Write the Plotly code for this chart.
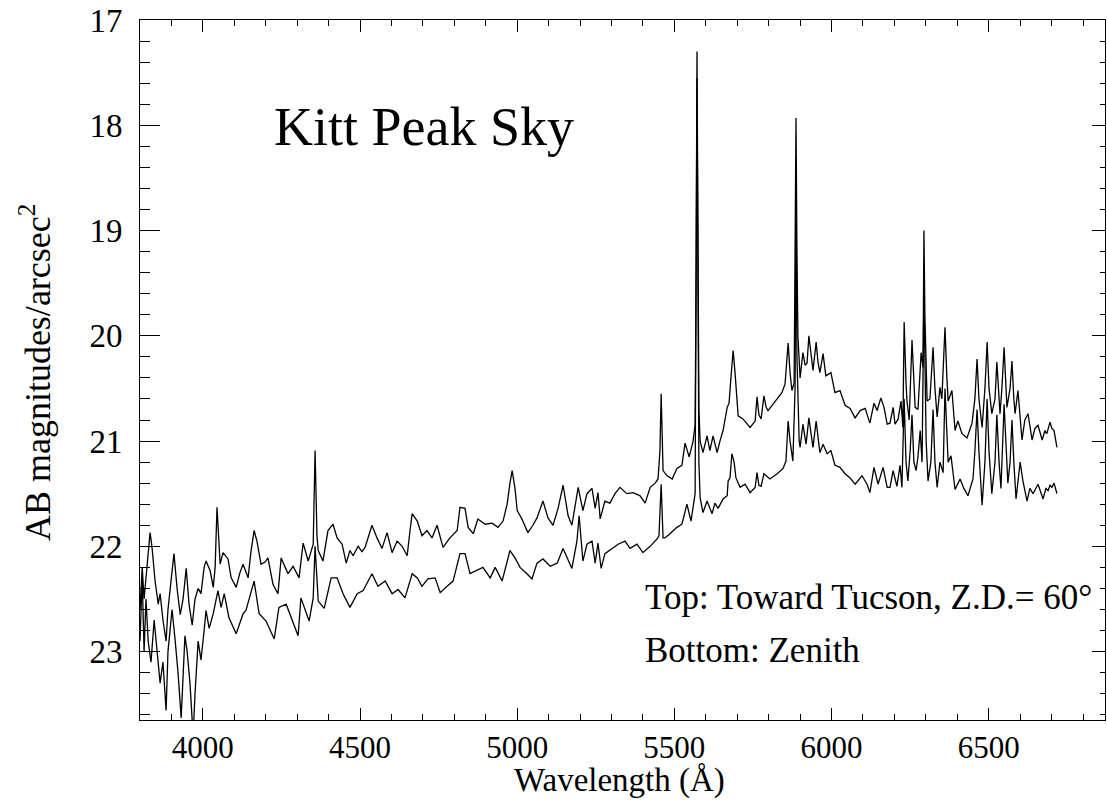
import plotly.graph_objects as go

# Wavelength (Angstrom) and AB mag/arcsec^2 for the "Top" spectrum (toward Tucson, Z.D.=60)
top_wl = [3800, 3807, 3813, 3819, 3826, 3832, 3838, 3848, 3858, 3864, 3873, 3883, 3889, 3899, 3908, 3918,
          3928, 3937, 3947, 3956, 3966, 3975, 3985, 3994, 4004, 4010, 4023, 4033, 4039, 4045, 4052, 4055,
          4064, 4080, 4090, 4106, 4118, 4128, 4144, 4153, 4163, 4172, 4185, 4198, 4207, 4223, 4239, 4249,
          4262, 4271, 4287, 4297, 4306, 4319, 4335, 4344, 4351, 4357, 4363, 4367, 4382, 4398, 4414, 4427,
          4443, 4456, 4468, 4478, 4494, 4506, 4516, 4538, 4554, 4570, 4586, 4602, 4618, 4634, 4650, 4659,
          4666, 4682, 4697, 4713, 4729, 4745, 4764, 4786, 4809, 4818, 4834, 4844, 4860, 4875, 4898, 4920,
          4939, 4955, 4968, 4977, 4984, 4993, 5000, 5015, 5034, 5050, 5063, 5082, 5098, 5114, 5130, 5146,
          5162, 5174, 5194, 5209, 5222, 5238, 5248, 5257, 5264, 5279, 5295, 5311, 5327, 5349, 5369, 5391,
          5407, 5423, 5439, 5448, 5454, 5458, 5461, 5464, 5477, 5493, 5508, 5524, 5534, 5547, 5559, 5566,
          5569, 5572, 5575, 5578, 5582, 5591, 5604, 5613, 5623, 5636, 5645, 5655, 5668, 5674, 5680, 5687,
          5693, 5696, 5703, 5718, 5741, 5757, 5763, 5769, 5776, 5785, 5792, 5798, 5820, 5842, 5852, 5862,
          5868, 5874, 5881, 5884, 5887, 5890, 5893, 5900, 5909, 5916, 5922, 5928, 5935, 5941, 5951, 5957,
          5963, 5973, 5982, 5998, 6011, 6027, 6043, 6059, 6075, 6091, 6107, 6122, 6135, 6145, 6157, 6167,
          6177, 6186, 6196, 6202, 6212, 6221, 6227, 6231, 6237, 6240, 6247, 6256, 6266, 6275, 6285, 6291,
          6294, 6297, 6304, 6313, 6323, 6329, 6336, 6345, 6351, 6361, 6367, 6371, 6383, 6393, 6402, 6415,
          6431, 6447, 6456, 6463, 6469, 6479, 6488, 6495, 6501, 6510, 6520, 6526, 6536, 6542, 6549, 6555,
          6558, 6568, 6574, 6580, 6584, 6593, 6606, 6615, 6625, 6638, 6647, 6657, 6670, 6679, 6685, 6695,
          6701, 6708, 6717]
top_mag = [22.60, 22.20, 22.50, 22.30, 22.10, 21.87, 22.00, 22.33, 22.55, 22.45, 22.70, 22.90, 22.60, 22.30, 22.07, 22.40,
           22.65, 22.50, 22.21, 22.55, 22.75, 22.50, 22.40, 22.45, 22.20, 22.14, 22.23, 22.39, 22.20, 21.63, 22.00, 22.17,
           22.06, 22.12, 22.30, 22.39, 22.25, 22.17, 22.30, 22.05, 21.85, 21.95, 22.17, 22.15, 22.11, 22.36, 22.45, 22.11,
           22.20, 22.26, 22.19, 22.25, 22.30, 21.97, 22.14, 22.05, 21.98, 21.09, 21.90, 22.04, 22.14, 21.85, 21.79, 21.92,
           21.98, 22.16, 22.04, 22.09, 22.00, 22.05, 22.01, 21.80, 21.92, 22.02, 21.87, 22.06, 21.95, 22.00, 22.09, 21.85,
           21.69, 21.76, 21.90, 21.85, 21.92, 21.80, 22.01, 21.92, 21.85, 21.63, 21.64, 21.82, 21.88, 21.74, 21.79, 21.78,
           21.82, 21.76, 21.60, 21.40, 21.28, 21.45, 21.66, 21.74, 21.87, 21.80, 21.73, 21.57, 21.73, 21.80, 21.64, 21.42,
           21.71, 21.80, 21.44, 21.66, 21.50, 21.45, 21.64, 21.49, 21.74, 21.57, 21.59, 21.50, 21.44, 21.50, 21.49, 21.52,
           21.59, 21.44, 21.40, 21.36, 21.10, 20.55, 20.90, 21.28, 21.33, 21.36, 21.26, 21.23, 21.02, 21.15, 21.01, 20.85,
           19.50, 17.30, 19.00, 20.70, 21.00, 21.11, 20.95, 21.09, 20.95, 21.11, 21.00, 20.90, 20.68, 20.64, 20.40, 20.14,
           20.35, 20.49, 20.76, 20.79, 20.87, 20.81, 20.58, 20.75, 20.79, 20.57, 20.68, 20.71, 20.62, 20.54, 20.46, 20.07,
           20.35, 20.52, 20.45, 19.50, 17.93, 19.20, 20.00, 20.40, 20.16, 20.28, 20.26, 20.00, 20.20, 20.33, 20.06, 20.25,
           20.35, 20.17, 20.38, 20.35, 20.54, 20.52, 20.66, 20.69, 20.78, 20.71, 20.69, 20.83, 20.64, 20.71, 20.59, 20.68,
           20.84, 20.83, 20.68, 20.84, 20.79, 20.62, 20.87, 19.87, 20.45, 20.62, 20.80, 20.04, 20.68, 20.70, 20.16, 20.30,
           19.00, 19.80, 20.62, 20.60, 20.11, 20.50, 20.77, 20.49, 20.60, 19.92, 20.40, 20.62, 20.52, 20.90, 20.81, 20.93,
           20.97, 20.83, 20.60, 20.22, 20.60, 20.87, 20.50, 20.06, 20.50, 20.74, 20.60, 20.25, 20.74, 20.50, 20.11, 20.50,
           20.68, 20.50, 20.24, 20.60, 20.74, 20.52, 20.99, 20.80, 20.74, 20.99, 20.88, 20.85, 20.99, 20.90, 20.93, 20.82,
           20.88, 20.90, 21.06]

# "Bottom" spectrum (zenith)
bot_wl = [3800, 3807, 3813, 3819, 3826, 3835, 3845, 3854, 3864, 3873, 3883, 3889, 3896, 3902, 3912, 3921,
          3931, 3937, 3943, 3950, 3959, 3969, 3975, 3985, 3994, 4004, 4010, 4020, 4033, 4048, 4058, 4068,
          4083, 4106, 4128, 4137, 4153, 4163, 4179, 4201, 4227, 4242, 4265, 4281, 4303, 4312, 4338, 4351,
          4357, 4367, 4386, 4408, 4427, 4446, 4468, 4491, 4510, 4538, 4557, 4580, 4602, 4621, 4643, 4666,
          4682, 4697, 4716, 4739, 4755, 4777, 4796, 4818, 4834, 4850, 4872, 4891, 4914, 4930, 4952, 4968,
          4977, 4993, 5009, 5031, 5047, 5063, 5082, 5105, 5127, 5146, 5162, 5174, 5190, 5197, 5209, 5222,
          5238, 5248, 5257, 5267, 5279, 5302, 5321, 5343, 5359, 5381, 5400, 5423, 5445, 5451, 5458, 5464,
          5470, 5486, 5508, 5524, 5540, 5553, 5559, 5566, 5572, 5578, 5582, 5591, 5604, 5620, 5629, 5639,
          5655, 5668, 5671, 5677, 5683, 5690, 5696, 5709, 5725, 5741, 5757, 5763, 5769, 5776, 5785, 5804,
          5827, 5846, 5855, 5862, 5868, 5874, 5877, 5884, 5887, 5890, 5897, 5900, 5909, 5919, 5928, 5941,
          5951, 5963, 5973, 5986, 5998, 6011, 6027, 6043, 6059, 6075, 6097, 6113, 6122, 6135, 6148, 6164,
          6177, 6186, 6196, 6208, 6218, 6224, 6231, 6237, 6243, 6250, 6256, 6262, 6269, 6275, 6282, 6288,
          6294, 6301, 6307, 6316, 6323, 6329, 6336, 6345, 6355, 6361, 6371, 6380, 6393, 6409, 6421, 6434,
          6450, 6456, 6463, 6469, 6479, 6488, 6495, 6501, 6510, 6520, 6526, 6533, 6539, 6549, 6555, 6561,
          6568, 6574, 6580, 6587, 6600, 6609, 6622, 6631, 6641, 6657, 6673, 6682, 6689, 6695, 6701, 6708,
          6717]
bot_mag = [22.90, 22.30, 23.00, 22.50, 22.90, 23.10, 22.70, 23.00, 23.30, 23.10, 23.56, 23.00, 22.80, 22.60, 22.90, 23.20,
           23.63, 23.20, 22.85, 23.00, 23.30, 23.80, 23.40, 22.90, 23.08, 22.80, 22.61, 22.78, 22.64, 22.42, 22.58, 22.45,
           22.68, 22.83, 22.64, 22.61, 22.42, 22.33, 22.64, 22.71, 22.88, 22.58, 22.55, 22.68, 22.85, 22.49, 22.71, 22.49,
           22.00, 22.52, 22.59, 22.30, 22.30, 22.45, 22.58, 22.45, 22.42, 22.26, 22.38, 22.33, 22.45, 22.41, 22.49, 22.26,
           22.30, 22.38, 22.31, 22.30, 22.44, 22.38, 22.33, 22.07, 22.07, 22.26, 22.23, 22.20, 22.30, 22.20, 22.33, 22.16,
           22.04, 22.11, 22.20, 22.26, 22.31, 22.16, 22.12, 22.19, 22.16, 22.02, 22.12, 22.21, 21.95, 21.71, 22.14, 21.98,
           21.95, 22.16, 21.97, 22.21, 22.07, 22.02, 21.98, 21.95, 22.02, 21.98, 22.06, 22.00, 21.93, 21.90, 21.41, 21.92,
           21.92, 21.88, 21.82, 21.79, 21.60, 21.76, 21.63, 21.50, 17.55, 21.20, 21.54, 21.68, 21.57, 21.69, 21.59, 21.64,
           21.55, 21.52, 21.38, 21.35, 21.12, 21.20, 21.35, 21.44, 21.41, 21.49, 21.44, 21.30, 21.42, 21.43, 21.31, 21.36,
           21.31, 21.26, 21.19, 20.81, 21.00, 21.12, 21.19, 20.50, 18.65, 20.20, 21.00, 21.06, 20.84, 21.03, 20.78, 21.06,
           20.81, 21.11, 21.03, 21.12, 21.09, 21.23, 21.25, 21.31, 21.35, 21.41, 21.33, 21.41, 21.49, 21.25, 21.41, 21.25,
           21.44, 21.44, 21.28, 21.43, 21.23, 21.44, 20.60, 21.20, 21.38, 21.10, 20.75, 21.20, 21.28, 21.15, 20.90, 21.20,
           19.60, 21.00, 21.38, 21.20, 20.70, 21.20, 21.44, 21.20, 21.30, 20.50, 21.20, 21.14, 21.46, 21.36, 21.45, 21.52,
           21.36, 21.10, 20.70, 21.10, 21.61, 21.20, 20.60, 21.10, 21.50, 21.20, 20.75, 21.20, 21.45, 20.65, 21.10, 21.40,
           21.20, 20.80, 21.20, 21.55, 21.20, 21.38, 21.57, 21.45, 21.50, 21.41, 21.55, 21.45, 21.47, 21.42, 21.44, 21.40,
           21.50]

x_range = [3800, 6870]
y_range = [23.65, 17]

FONT = "Liberation Serif"

fig = go.Figure()
fig.add_trace(go.Scatter(x=top_wl, y=top_mag, mode="lines",
                         line=dict(color="black", width=1.3), showlegend=False))
fig.add_trace(go.Scatter(x=bot_wl, y=bot_mag, mode="lines",
                         line=dict(color="black", width=1.3), showlegend=False))
# empty trace to activate the right-hand axis
fig.add_trace(go.Scatter(x=[None], y=[None], yaxis="y2", showlegend=False, hoverinfo="skip"))

fig.update_layout(
    width=1107, height=802,
    margin=dict(l=140, r=2, t=20, b=82, autoexpand=False),
    paper_bgcolor="white", plot_bgcolor="white",
    font=dict(family=FONT, color="black", size=32),
    xaxis=dict(range=x_range, tickmode="linear", tick0=4000, dtick=500, automargin=False,
               ticks="inside", ticklen=12, tickwidth=1, tickcolor="black",
               minor=dict(dtick=100, tick0=4000, ticks="inside", ticklen=6, tickcolor="black", tickwidth=1),
               showline=True, linecolor="black", linewidth=1, mirror="ticks",
               showgrid=False, zeroline=False, ticklabelstandoff=0,
               tickfont=dict(family=FONT, size=31)),
    yaxis=dict(range=y_range, tickmode="linear", tick0=17, dtick=1, automargin=False,
               ticks="inside", ticklen=20, tickwidth=1, tickcolor="black",
               minor=dict(dtick=0.2, tick0=17, ticks="inside", ticklen=10, tickcolor="black", tickwidth=1),
               showline=True, linecolor="black", linewidth=1, mirror=False,
               showgrid=False, zeroline=False, ticklabelstandoff=10,
               tickfont=dict(family=FONT, size=33)),
    yaxis2=dict(range=y_range, overlaying="y", side="right", tickmode="linear", tick0=17, dtick=1,
                automargin=False,
                ticks="inside", ticklen=13, tickwidth=1, tickcolor="black",
                minor=dict(dtick=0.2, tick0=17, ticks="inside", ticklen=5, tickcolor="black", tickwidth=1),
                showline=True, linecolor="black", linewidth=1, showticklabels=False,
                showgrid=False, zeroline=False),
)

fig.add_annotation(x=4220, y=18.02, xref="x", yref="y", text="Kitt Peak Sky", showarrow=False,
                   xanchor="left", yanchor="middle", font=dict(family=FONT, size=54))
fig.add_annotation(x=5400, y=22.49, xref="x", yref="y", text="Top: Toward Tucson, Z.D.= 60°",
                   showarrow=False, xanchor="left", yanchor="middle", font=dict(family=FONT, size=35))
fig.add_annotation(x=5400, y=22.99, xref="x", yref="y", text="Bottom: Zenith",
                   showarrow=False, xanchor="left", yanchor="middle", font=dict(family=FONT, size=35))
fig.add_annotation(x=0.497, y=-81.5 / 700, xref="paper", yref="paper", text="Wavelength (Å)",
                   showarrow=False, xanchor="center", yanchor="bottom", font=dict(family=FONT, size=33))
fig.add_annotation(x=-0.1088, y=0.497, xref="paper", yref="paper", text="AB magnitudes/arcsec<sup>2</sup>",
                   showarrow=False, xanchor="center", yanchor="middle", textangle=-90,
                   font=dict(family=FONT, size=36))

fig.write_html("out.html", config={"displayModeBar": False},
               post_script="document.body.style.margin='0px';document.body.style.overflow='hidden';")
